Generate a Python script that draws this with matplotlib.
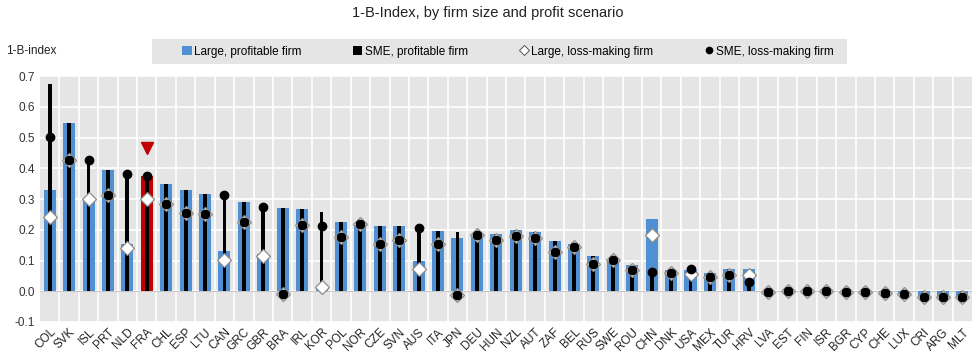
import numpy as np
import matplotlib
matplotlib.use("Agg")
import matplotlib.pyplot as plt
from matplotlib.lines import Line2D
from matplotlib.patches import Patch, Rectangle

plt.rcParams['font.family'] = ['Liberation Sans', 'DejaVu Sans']

countries = ["COL", "SVK", "ISL", "PRT", "NLD", "FRA", "CHL", "ESP", "LTU", "CAN",
             "GRC", "GBR", "BRA", "IRL", "KOR", "POL", "NOR", "CZE", "SVN", "AUS",
             "ITA", "JPN", "DEU", "HUN", "NZL", "AUT", "ZAF", "BEL", "RUS", "SWE",
             "ROU", "CHN", "DNK", "USA", "MEX", "TUR", "HRV", "LVA", "EST", "FIN",
             "ISR", "BGR", "CYP", "CHE", "LUX", "CRI", "ARG", "MLT"]

large_prof = [0.330, 0.548, 0.302, 0.396, 0.155, 0.375, 0.349, 0.329, 0.316, 0.130,
              0.291, 0.120, 0.271, 0.269, 0.015, 0.224, 0.222, 0.213, 0.213, 0.098,
              0.197, 0.174, 0.188, 0.187, 0.199, 0.193, 0.164, 0.155, 0.114, 0.103,
              0.085, 0.235, 0.068, 0.068, 0.058, 0.071, 0.071, -0.002, 0.0, 0.0,
              0.0, -0.004, -0.004, -0.005, -0.010, -0.018, -0.018, -0.018]

sme_prof = [0.676, 0.548, 0.427, 0.396, 0.383, 0.375, 0.349, 0.329, 0.316, 0.313,
            0.291, 0.275, 0.271, 0.269, 0.258, 0.224, 0.222, 0.213, 0.213, 0.207,
            0.197, 0.193, 0.188, 0.187, 0.199, 0.193, 0.164, 0.155, 0.114, 0.103,
            0.085, 0.063, 0.068, 0.072, 0.058, 0.071, 0.030, -0.002, 0.0, 0.0,
            0.0, -0.004, -0.004, -0.005, -0.010, -0.018, -0.018, -0.018]

large_loss = [0.242, 0.427, 0.300, 0.313, 0.142, 0.300, 0.283, 0.256, 0.253, 0.101,
              0.224, 0.116, -0.008, 0.215, 0.014, 0.177, 0.220, 0.155, 0.168, 0.071,
              0.155, -0.011, 0.182, 0.166, 0.180, 0.175, 0.128, 0.144, 0.090, 0.103,
              0.068, 0.182, 0.060, 0.055, 0.047, 0.054, 0.052, -0.002, 0.0, 0.0,
              0.0, -0.004, -0.004, -0.005, -0.010, -0.018, -0.018, -0.018]

sme_loss = [0.503, 0.427, 0.427, 0.313, 0.383, 0.375, 0.283, 0.256, 0.253, 0.313,
            0.224, 0.275, -0.008, 0.215, 0.212, 0.177, 0.220, 0.155, 0.168, 0.207,
            0.155, -0.011, 0.182, 0.166, 0.180, 0.175, 0.128, 0.144, 0.090, 0.103,
            0.068, 0.063, 0.060, 0.072, 0.047, 0.054, 0.030, -0.002, 0.0, 0.0,
            0.0, -0.004, -0.004, -0.005, -0.010, -0.018, -0.018, -0.018]

highlight = "FRA"
yticks = [-0.1, 0.0, 0.1, 0.2, 0.3, 0.4, 0.5, 0.6, 0.7]

BLUE = "#4f8fd3"
RED = "#c00000"
BG = "#e5e5e5"

x = np.arange(len(countries))
hi = countries.index(highlight)
bar_colors = [RED if c == highlight else BLUE for c in countries]

fig = plt.figure(figsize=(9.75, 3.63), dpi=100)
ax = fig.add_axes([0.041, 0.113, 0.956, 0.677])
ax.set_facecolor(BG)

ax.bar(x, large_prof, width=0.62, color=bar_colors, zorder=2)
ax.bar(x, sme_prof, width=0.2, color="black", zorder=3)
ax.plot(x, large_loss, linestyle="none", marker="D", markersize=7.5,
        markerfacecolor="white", markeredgecolor="#8c8c8c", markeredgewidth=0.9, zorder=4)
ax.plot(x, sme_loss, linestyle="none", marker="o", markersize=6,
        color="black", zorder=5)
# marker above the highlighted country
ax.plot(x[hi], 0.465, marker="v", markersize=9, color=RED, linestyle="none", zorder=5)

ax.set_xlim(-0.5, len(countries) - 0.5)
ax.set_ylim(-0.1, 0.7)
ax.set_yticks(yticks)
ax.set_yticklabels([f"{v:.1f}" for v in yticks], fontsize=8.5, color="#333333")
ax.set_xticks(x)
ax.set_xticklabels(countries, rotation=45, ha="right", rotation_mode="anchor",
                   fontsize=8.5, color="#222222")
ax.set_xticks(x[:-1] + 0.5, minor=True)
ax.tick_params(axis="both", which="both", length=0)
ax.tick_params(axis="x", pad=3)
ax.grid(axis="y", which="major", color="white", linewidth=1.2, zorder=0)
ax.grid(axis="x", which="minor", color="white", linewidth=1.2, zorder=0)
ax.set_axisbelow(True)
ax.axhline(0, color="#c8c8c8", linewidth=0.8, zorder=1)
for s in ax.spines.values():
    s.set_visible(False)

fig.text(0.5, 0.965, "1-B-Index, by firm size and profit scenario",
         ha="center", va="center", fontsize=10.5, color="#222222")
fig.text(0.006, 0.86, "1-B-index", ha="left", va="center", fontsize=8.5, color="#222222")

# legend background band
fig.patches.append(Rectangle((0.156, 0.824), 0.713, 0.068, transform=fig.transFigure,
                             facecolor=BG, edgecolor="none", zorder=0))

handles = [
    Patch(facecolor=BLUE, edgecolor="none"),
    Patch(facecolor="black", edgecolor="none"),
    Line2D([], [], linestyle="none", marker="D", markersize=5,
           markerfacecolor="white", markeredgecolor="#555555", markeredgewidth=0.7),
    Line2D([], [], linestyle="none", marker="o", markersize=4.5, color="black"),
]
labels = ["Large, profitable firm", "SME, profitable firm",
          "Large, loss-making firm", "SME, loss-making firm"]
leg = fig.legend(handles, labels, loc="center", bbox_to_anchor=(0.521, 0.858), ncol=4,
                 fontsize=8.5, frameon=False, handlelength=0.8,
                 handleheight=0.8, handletextpad=0.2, columnspacing=4.35,
                 borderpad=0.3)

fig.savefig("out.png", dpi=100)
